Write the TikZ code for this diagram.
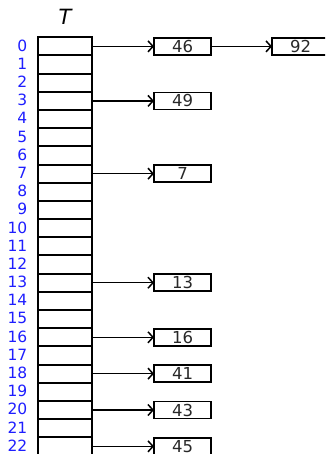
\documentclass[tikz,border=0pt]{standalone}
\usepackage{fontspec}
\setmainfont{DejaVu Sans}
\usetikzlibrary{arrows.meta}
\definecolor{idxblue}{RGB}{30,30,255}
\definecolor{valgray}{RGB}{40,40,40}
\tikzset{
  cell/.style={draw=black, line width=2pt, minimum width=54pt, minimum height=18.18pt, inner sep=0pt, outer sep=0pt},
  idx/.style={anchor=east, text=idxblue, font=\fontsize{15.5}{15.5}\selectfont, inner sep=0pt},
  valbox/.style={draw=black, line width=1.8pt, minimum width=57pt, minimum height=17pt, inner sep=0pt, outer sep=0pt, text=valgray, font=\fontsize{16.5}{16.5}\selectfont},
  ptr/.style={draw=black, line width=1.5pt, -{Straight Barb[length=5pt,width=11pt,line width=1.5pt]}}
}
\begin{document}
\begin{tikzpicture}[x=1pt,y=-1pt]
\useasboundingbox (0,0) rectangle (325,454);
\clip (0,0) rectangle (325,454);
\node[font=\fontsize{21}{21}\selectfont\itshape, inner sep=0pt] (T) at (65,17) {T};
\foreach \i in {0,...,22} {
  \node[cell] (c\i) at (65,{46.4+18.18*\i}) {};
  \node[idx] (l\i) at (27.5,{45.6+18.18*\i}) {\i};
}
\foreach \i/\v in {0/46,3/49,7/7,13/13,16/16,18/41,20/43,22/45} {
  \node[valbox] (b\i) at (182.5,{46.4+18.18*\i}) {\v};
  \draw[ptr] (c\i.east) -- (b\i.west);
}
\node[valbox] (b0n) at (300.5,46.4) {92};
\draw[ptr] (b0.east) -- (b0n.west);
\end{tikzpicture}
\end{document}
